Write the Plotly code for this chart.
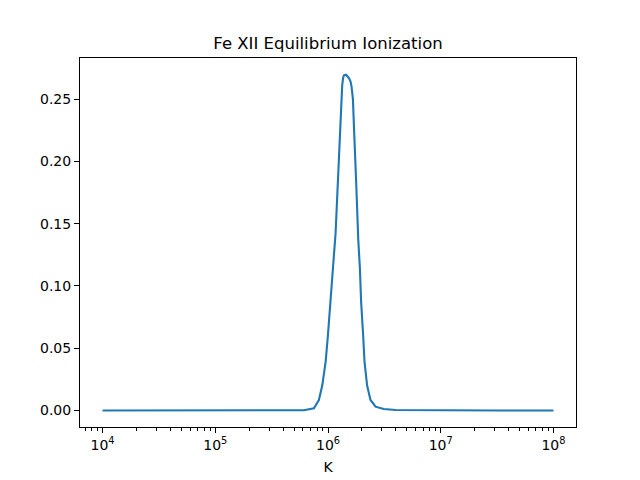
import plotly.graph_objects as go

# log10(T [K]) and Fe XII ion fraction
log_t = [4.0, 5.0, 5.5, 5.786, 5.875, 5.919, 5.949, 5.979, 5.999, 6.023, 6.046,
         6.067, 6.081, 6.094, 6.105, 6.117, 6.126, 6.134, 6.141, 6.160, 6.185, 6.200,
         6.209, 6.221, 6.229, 6.238, 6.250, 6.259, 6.268, 6.283, 6.294, 6.312, 6.324,
         6.347, 6.377, 6.422, 6.495, 6.6, 7.0, 7.5, 8.0]
fraction = [0.0, 0.0, 0.0, 0.0002, 0.0018, 0.0084, 0.020, 0.039, 0.060, 0.087,
            0.114, 0.142, 0.170, 0.196, 0.223, 0.250, 0.261, 0.267, 0.269, 0.2695, 0.267,
            0.264, 0.260, 0.250, 0.236, 0.210, 0.183, 0.156, 0.138, 0.114, 0.087, 0.060,
            0.039, 0.020, 0.0084, 0.003, 0.0012, 0.0003, 0.0, 0.0, 0.0]
temperature = [10 ** v for v in log_t]

x_tick_vals = [1e4, 1e5, 1e6, 1e7, 1e8]
x_tick_text = ["10<sup>4</sup>", "10<sup>5</sup>", "10<sup>6</sup>", "10<sup>7</sup>", "10<sup>8</sup>"]
minor_vals = [m * 10 ** e for e in range(3, 9) for m in range(2, 10)]
y_tick_vals = [0.0, 0.05, 0.10, 0.15, 0.20, 0.25]

fig = go.Figure()
fig.add_trace(go.Scatter(x=temperature, y=fraction, mode="lines",
                         line=dict(color="#1f77b4", width=2.1),
                         showlegend=False))

font = "DejaVu Sans"
fig.update_layout(
    width=640, height=480,
    margin=dict(l=80, r=64, t=58, b=53),
    paper_bgcolor="white", plot_bgcolor="white",
    font=dict(family=font, size=14, color="black"),
    title=dict(text="Fe XII Equilibrium Ionization", x=328 / 640, xanchor="center",
               xref="container", y=1 - 43 / 480, yanchor="middle", yref="container",
               font=dict(family=font, size=16.5, color="black")),
)
fig.update_xaxes(
    type="log", range=[3.8, 8.2], automargin=False,
    tickmode="array", tickvals=x_tick_vals, ticktext=x_tick_text,
    ticks="outside", ticklen=5, tickwidth=1, tickcolor="black",
    minor=dict(tickmode="array", tickvals=minor_vals, ticks="outside", ticklen=3,
               tickwidth=0.8, tickcolor="black", showgrid=False),
    showline=True, linecolor="black", linewidth=1, mirror=True,
    showgrid=False, zeroline=False,
    title=dict(text="K", font=dict(family=font, size=14), standoff=10),
    tickfont=dict(family=font, size=14),
)
fig.update_yaxes(
    range=[-0.0133, 0.2830], automargin=False,
    tickmode="array", tickvals=y_tick_vals, tickformat=".2f",
    ticks="outside", ticklen=5, tickwidth=1, tickcolor="black",
    showline=True, linecolor="black", linewidth=1, mirror=True,
    showgrid=False, zeroline=False,
    tickfont=dict(family=font, size=14),
)

fig.write_html("out.html")
